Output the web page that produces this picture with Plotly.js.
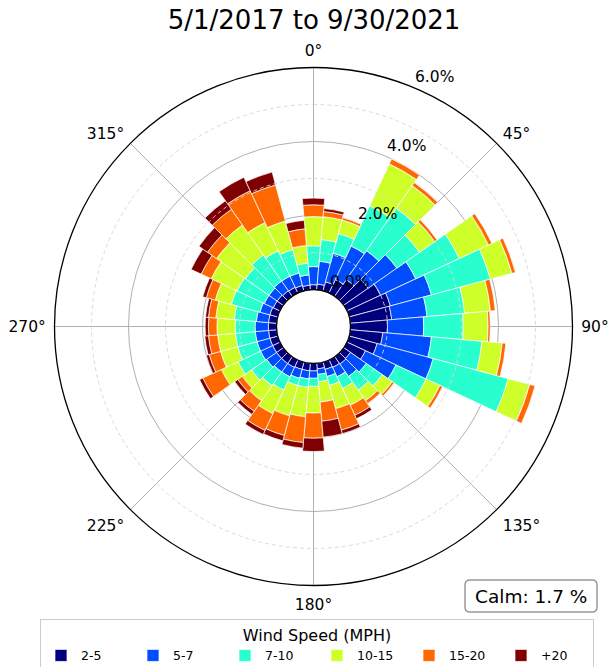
<!DOCTYPE html>
<html>
<head>
<meta charset="utf-8">
<script src="https://cdn.plot.ly/plotly-3.0.1.min.js"></script>
<style>html,body{margin:0;padding:0;background:#fff;}#chart{width:611px;height:667px;}</style>
</head>
<body>
<div id="chart"></div>
<script>
// Direction bins (degrees, clockwise from north)
const directions = [0,10,20,30,40,50,60,70,80,90,100,110,120,130,140,150,160,170,
                    180,190,200,210,220,230,240,250,260,270,280,290,300,310,320,330,340,350];

// Speed classes (MPH)
const speedLabels = ['2-5','5-7','7-10','10-15','15-20','+20'];
const speedColors = ['#00007f','#004cff','#29ffce','#ceff29','#ff6800','#7f0000'];

// Frequency (%) per direction for each speed class
const s2_5   = [0.13,0.15,0.25,0.40,0.55,0.80,1.00,1.15,1.12,1.00,0.88,0.78,0.55,0.22,0.24,0.22,0.20,0.15,
                0.20,0.20,0.20,0.22,0.22,0.22,0.22,0.22,0.22,0.22,0.22,0.22,0.20,0.20,0.18,0.17,0.15,0.12];
const s5_7   = [0.49,0.62,0.80,1.00,0.95,0.95,1.05,1.15,0.96,0.98,1.32,1.57,0.91,0.52,0.41,0.28,0.20,0.15,
                0.20,0.22,0.25,0.28,0.28,0.33,0.36,0.36,0.36,0.36,0.33,0.28,0.27,0.27,0.32,0.33,0.35,0.28];
const s7_10  = [0.56,0.59,0.55,1.20,1.40,0.75,1.30,1.65,1.02,1.07,1.37,2.10,0.90,0.53,0.45,0.35,0.25,0.20,
                0.22,0.23,0.20,0.40,0.45,0.50,0.67,0.54,0.54,0.54,0.60,0.80,0.81,0.78,0.86,0.76,0.65,0.32];
const s10_15 = [0.79,0.62,0.38,1.25,0.75,0.50,0.87,0.60,0.70,0.67,0.55,0.60,0.41,0.33,0.35,0.50,0.65,0.55,
                0.72,0.80,0.85,0.70,0.50,0.30,0.50,0.48,0.48,0.49,0.50,0.45,0.77,0.95,0.99,0.84,0.80,0.48];
const s15_20 = [0.32,0.14,0.07,0.15,0.10,0.08,0.10,0.10,0.13,0.06,0.10,0.15,0.08,0.06,0.10,0.30,0.60,0.52,
                0.68,0.70,0.55,0.50,0.35,0.15,0.55,0.32,0.25,0.23,0.20,0.25,0.30,0.30,0.52,0.95,1.01,0.45];
const s20p   = [0.18,0.08,0.01,0.01,0.01,0.00,0.00,0.00,0.00,0.00,0.00,0.00,0.00,0.00,0.01,0.10,0.10,0.43,
                0.36,0.15,0.15,0.12,0.10,0.10,0.10,0.08,0.10,0.09,0.08,0.10,0.30,0.28,0.28,0.40,0.36,0.23];
const speedSeries = [s2_5, s5_7, s7_10, s10_15, s15_20, s20p];

// Axis ticks
const radialTicks = [0,2,4,6];
const radialTickText = ['0.0%','2.0%','4.0%','6.0%'];
const radialMinor = [1,3,5];
const radialLabelAngle = 22.5;   // degrees clockwise from north
const angleTicks = [0,45,90,135,180,225,270,315];
const angleTickText = ['0°','45°','90°','135°','180°','225°','270°','315°'];
const calmText = 'Calm: 1.7 %';
const titleText = '5/1/2017 to 9/30/2021';

const traces = speedSeries.map((vals, i) => ({
  type: 'barpolar',
  r: vals,
  theta: directions,
  name: speedLabels[i],
  marker: {color: speedColors[i], line: {color: '#ffffff', width: 0.7}},
  hoverinfo: 'skip'
}));

// dashed minor circles
const circleTheta = [];
for (let a = 0; a <= 360; a += 2) circleTheta.push(a);
radialMinor.forEach(m => {
  traces.push({
    type: 'scatterpolar', mode: 'lines',
    r: circleTheta.map(() => m), theta: circleTheta,
    line: {color: '#d6d6d6', width: 0.9, dash: '4px,3px'},
    showlegend: false, hoverinfo: 'skip'
  });
});
// inner hole outline
traces.push({
  type: 'scatterpolar', mode: 'lines',
  r: circleTheta.map(() => radialTicks[0]), theta: circleTheta,
  line: {color: '#222222', width: 1.2},
  showlegend: false, hoverinfo: 'skip'
});

const W = 611, H = 667;
const cx = 313.5, cy = 326.5, R = 259;
const holeFrac = 37 / 259;
const rMax = radialTicks[radialTicks.length - 1];

// radial tick labels placed along the 22.5° line (matplotlib style, horizontal text)
const annotations = radialTicks.map((v, i) => {
  const rp = R * (holeFrac + (1 - holeFrac) * v / rMax);
  const a = radialLabelAngle * Math.PI / 180;
  const px = cx + rp * Math.sin(a) + 22;
  const py = cy - rp * Math.cos(a) - 10;
  return {
    text: radialTickText[i], xref: 'paper', yref: 'paper',
    x: px / W, y: 1 - py / H, xanchor: 'center', yanchor: 'middle',
    showarrow: false, font: {size: 15.5, family: 'DejaVu Sans', color: '#000000'}
  };
});
annotations.push({
  text: calmText, xref: 'paper', yref: 'paper',
  x: 531 / W, y: 1 - 596 / H, xanchor: 'center', yanchor: 'middle',
  showarrow: false,
  font: {size: 18.5, family: 'DejaVu Sans', color: '#000000'}
});

// rounded box for the calm annotation
function roundedRect(x0, y0, x1, y1, rr) {
  const X = v => (v / W).toFixed(5), Y = v => (1 - v / H).toFixed(5);
  return `M ${X(x0 + rr)} ${Y(y0)} L ${X(x1 - rr)} ${Y(y0)} Q ${X(x1)} ${Y(y0)} ${X(x1)} ${Y(y0 + rr)} ` +
         `L ${X(x1)} ${Y(y1 - rr)} Q ${X(x1)} ${Y(y1)} ${X(x1 - rr)} ${Y(y1)} ` +
         `L ${X(x0 + rr)} ${Y(y1)} Q ${X(x0)} ${Y(y1)} ${X(x0)} ${Y(y1 - rr)} ` +
         `L ${X(x0)} ${Y(y0 + rr)} Q ${X(x0)} ${Y(y0)} ${X(x0 + rr)} ${Y(y0)} Z`;
}

const layout = {
  width: W, height: H,
  margin: {l: 0, r: 0, t: 0, b: 0, autoexpand: false},
  paper_bgcolor: '#ffffff',
  font: {family: 'DejaVu Sans', color: '#000000', size: 14},
  title: {text: titleText, x: 0.514, xanchor: 'center', y: 1 - 20 / H, yanchor: 'middle',
          font: {size: 26, family: 'DejaVu Sans', color: '#000000'}},
  showlegend: true,
  legend: {
    orientation: 'h',
    x: 40 / W, xanchor: 'left',
    y: 1 - 619 / H, yanchor: 'top',
    bordercolor: '#cccccc', borderwidth: 1,
    bgcolor: '#ffffff',
    font: {size: 12.5, family: 'DejaVu Sans'},
    title: {text: 'Wind Speed (MPH)', side: 'top center', font: {size: 16, family: 'DejaVu Sans'}},
    entrywidth: 47, entrywidthmode: 'pixels',
    itemwidth: 30,
    traceorder: 'normal'
  },
  polar: {
    domain: {x: [(cx - R) / W, (cx + R) / W], y: [(H - cy - R) / H, (H - cy + R) / H]},
    hole: holeFrac,
    bgcolor: '#ffffff',
    barmode: 'stack',
    bargap: 0,
    layer: 'above traces',
    radialaxis: {
      range: [0, rMax],
      tickvals: radialTicks,
      showticklabels: false,
      angle: 90 - radialLabelAngle,
      showline: false,
      ticks: '',
      gridcolor: '#b0b0b0',
      gridwidth: 1
    },
    angularaxis: {
      direction: 'clockwise',
      rotation: 90,
      tickvals: angleTicks,
      ticktext: angleTickText,
      showline: true,
      linecolor: '#000000',
      linewidth: 1.3,
      gridcolor: '#b0b0b0',
      gridwidth: 1,
      ticks: 'outside', ticklen: 5, tickcolor: 'rgba(0,0,0,0)',
      tickfont: {size: 15.5, family: 'DejaVu Sans', color: '#000000'}
    }
  },
  shapes: [{
    type: 'path', xref: 'paper', yref: 'paper',
    path: roundedRect(465, 580, 597, 612, 5),
    line: {color: '#9a9a9a', width: 1.5}, fillcolor: '#ffffff', layer: 'above'
  }],
  annotations: annotations
};

Plotly.newPlot('chart', traces, layout, {displayModeBar: false, staticPlot: true});
</script>
</body>
</html>
